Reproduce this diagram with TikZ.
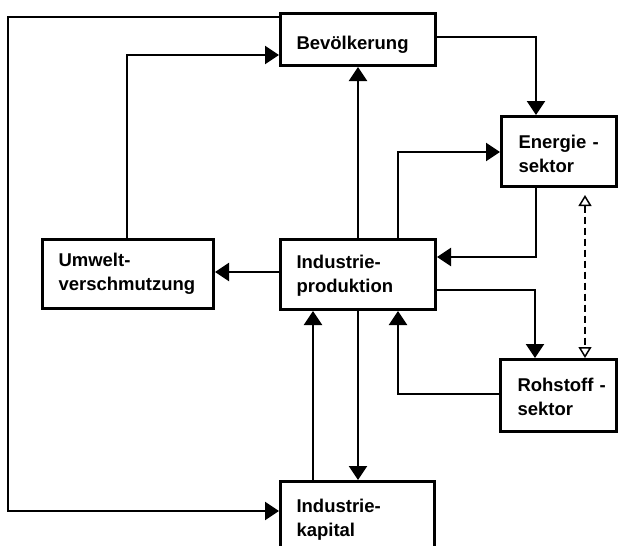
\documentclass[tikz,border=0pt]{standalone}
\usepackage{fontspec}
\setmainfont{Liberation Sans}
\usetikzlibrary{arrows.meta,calc}
\begin{document}
\begin{tikzpicture}[x=1pt,y=-1pt,
  box/.style={draw, line width=3pt, anchor=north west, inner xsep=16pt, inner ysep=0pt,
    align=left, font=\fontsize{18.5}{24}\selectfont\bfseries},
  arr/.style={line width=2.1pt, -{Triangle[width=18pt,length=14pt]}},
  darr/.style={line width=1.8pt, dash pattern=on 7pt off 4pt,
    {Triangle[open,width=13pt,length=11pt,line width=1.5pt]}-{Triangle[open,width=13pt,length=11pt,line width=1.5pt]}}]
\fill[white] (0,0) rectangle (619,546);
\useasboundingbox (0,0) rectangle (619,546);
% boxes
\node[box, minimum width=155pt, minimum height=52pt, text width=123pt, text height=20pt, text depth=0pt] (bev) at (279,12) {Bevölkerung};
\node[box, minimum width=155pt, minimum height=70pt, text width=123pt, text height=14pt, text depth=26pt] (ind) at (279,238) {Industrie-\\produktion};
\node[box, minimum width=171pt, minimum height=69pt, text width=139pt] (umw) at (41,238) {Umwelt-\\verschmutzung};
\node[box, minimum width=115pt, minimum height=70pt, text width=81pt, inner xsep=17pt, text height=14pt, text depth=20pt] (ene) at (500,115) {\mbox{Energie -}\\sektor};
\node[box, minimum width=116pt, minimum height=72pt, text width=82pt, inner xsep=17pt, text height=14pt, text depth=22pt] (roh) at (499,358) {\mbox{Rohstoff -}\\sektor};
\node[box, minimum width=154pt, minimum height=76pt, text width=122pt] (kap) at (279,480) {Industrie-\\kapital};
% helper coordinates
\coordinate (lft) at (8,0);
\coordinate (a1) at ($(bev.north west)+(0,5)$);
\coordinate (a2) at ($(kap.north west)+(0,31)$);
% connectors
\draw[arr] (a1) -- (a1 -| lft) -- (a2 -| lft) -- (a2);
\draw[arr] ($(umw.north west)+(86,0)$) |- ($(bev.north west)+(0,43)$);
\draw[arr] (ind.north) -- (bev.south);
\draw[arr] ($(bev.north east)+(0,25)$) -| ($(ene.north west)+(36,0)$);
\draw[arr] ($(ind.north west)+(119,0)$) |- ($(ene.north west)+(0,37)$);
\draw[arr] ($(ene.south west)+(36,0)$) |- ($(ind.north east)+(0,19)$);
\draw[darr, shorten <=7pt] ($(ene.south west)+(85,0)$) -- ($(roh.north west)+(86,0)$);
\draw[arr] ($(ind.north east)+(0,52)$) -| ($(roh.north west)+(36,0)$);
\draw[arr] ($(roh.north west)+(0,36)$) -| ($(ind.south west)+(119,0)$);
\draw[arr] ($(ind.north west)+(0,34)$) -- ($(umw.north east)+(0,34)$);
\draw[arr] (ind.south) -- (ind.south |- kap.north);
\draw[arr] ($(kap.north west)+(34,0)$) coordinate (k1) -- (k1 |- ind.south);
\end{tikzpicture}
\end{document}
